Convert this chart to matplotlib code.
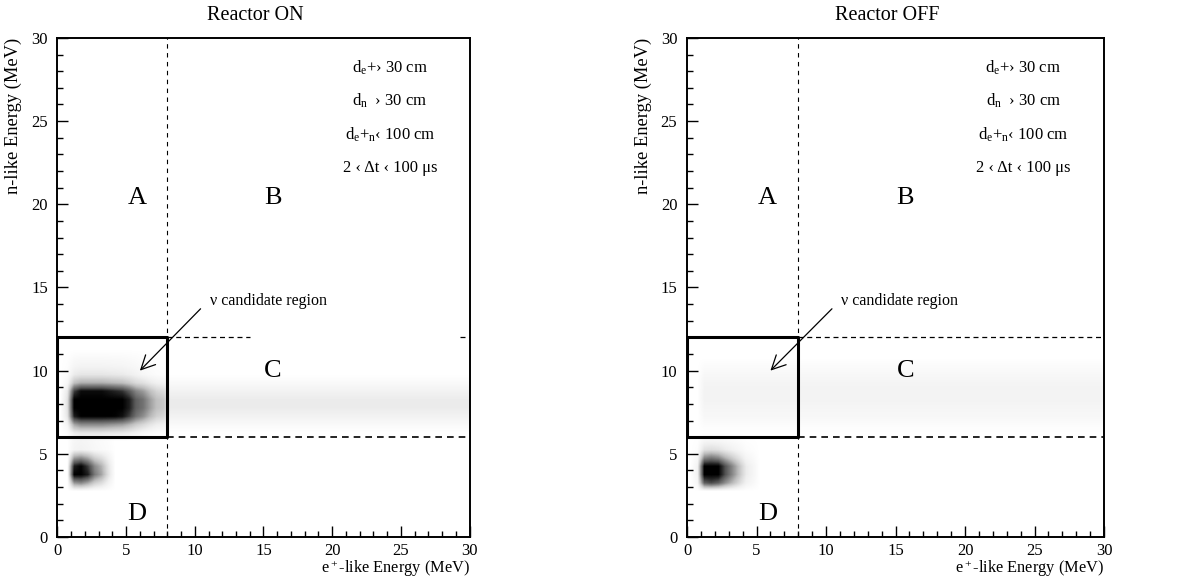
import numpy as np
import matplotlib.pyplot as plt

plt.rcParams['font.family'] = ['Liberation Serif', 'DejaVu Serif']
plt.rcParams['mathtext.fontset'] = 'custom'
plt.rcParams['mathtext.rm'] = 'Liberation Serif'
plt.rcParams['mathtext.it'] = 'Liberation Serif:italic'

# event density, 0.5 MeV bins (x: 0-30, y: 0-15)
# each blob = x-profile (starting at bin x0) times y-profile (starting at bin y0)
titles = ['Reactor ON', 'Reactor OFF']
cuts = [r'd$_\mathregular{e}$+› 30 cm',
        r'd$_\mathregular{n}$  › 30 cm',
        r'd$_\mathregular{e}$+$_\mathregular{n}$‹ 100 cm',
        '2 ‹ Δt ‹ 100 μs']
regions = ['A', 'B', 'C', 'D']
region_x = [5.8, 15.7, 15.7, 5.8]
region_y = [20.4, 20.4, 10.0, 1.4]

on_main_x = [0.2, 1.0, 1.2, 1.2, 1.2, 1.2, 1.15, 1.1, 1.05, 0.9, 0.7, 0.45, 0.3, 0.18, 0.14]
on_main_y = [0.15, 0.45, 0.9, 1.0, 1.0, 0.8, 0.35, 0.15, 0.08, 0.04]
on_band_x = [0.18] * 4 + [0.15] * 44
on_band_y = [0.3, 0.7, 1.0, 1.0, 0.7, 0.3]
on_d_x = [1.0, 1.1, 0.9, 0.6, 0.45, 0.2]
on_d_y = [0.5, 1.0, 0.9, 0.35]
on_halo_x = [0.3, 0.35, 0.3, 0.2, 0.15, 0.1]
on_halo_y = [0.4, 0.3, 0.25]

off_d_x = [0.1, 1.0, 1.1, 1.0, 0.75, 0.55, 0.35, 0.15, 0.08]
off_d_y = [0.7, 1.0, 1.0, 0.55, 0.2, 0.08]
off_band_x = [0.1] * 58
off_band_y = [0.3, 0.6, 0.8, 1.0, 1.0, 0.9, 0.6, 0.3]

blobs_on = [(on_main_x, 1, on_main_y, 12), (on_band_x, 12, on_band_y, 13),
            (on_d_x, 2, on_d_y, 6), (on_halo_x, 2, on_halo_y, 9)]
blobs_off = [(off_d_x, 1, off_d_y, 6), (off_band_x, 2, off_band_y, 13)]


def density(blobs):
    d = np.zeros((30, 60))
    for px, x0, py, y0 in blobs:
        d[y0:y0 + len(py), x0:x0 + len(px)] += np.outer(py, px)
    return np.clip(d, 0, 1)


fig = plt.figure(figsize=(11.95, 5.84), dpi=100)
axes = [fig.add_axes([0.0481, 0.0805, 0.3448, 0.8545]),
        fig.add_axes([0.5749, 0.0805, 0.349, 0.8545])]

for ax, title, blobs in zip(axes, titles, [blobs_on, blobs_off]):
    ax.imshow(density(blobs), extent=[0, 30, 0, 15], origin='lower', cmap='Greys',
              vmin=0, vmax=1, aspect='auto', interpolation='bilinear', zorder=1)
    ax.set_xlim(0, 30)
    ax.set_ylim(0, 30)

    # cut lines and candidate box
    ax.axvline(8, color='k', lw=0.8, ls=(0, (4, 4)), zorder=2)
    ax.plot([8, 30], [6, 6], color='k', lw=1.2, ls=(0, (4, 3)), zorder=2)
    if title == 'Reactor ON':
        ax.plot([8, 14], [12, 12], color='k', lw=0.9, ls=(0, (4, 3)), zorder=2)
        ax.plot([29.3, 30], [12, 12], color='k', lw=0.9, ls=(0, (4, 3)), zorder=2)
    else:
        ax.plot([8, 30], [12, 12], color='k', lw=0.9, ls=(0, (4, 3)), zorder=2)
    ax.plot([0, 8, 8, 0, 0], [6, 6, 12, 12, 6], color='k', lw=2.2, zorder=3)

    ax.annotate('ν candidate region', xy=(6.0, 10.0), xytext=(11.1, 14.2),
                fontsize=11.5, va='center', ha='left',
                arrowprops=dict(arrowstyle='->', lw=0.9, color='k', mutation_scale=25,
                                shrinkA=0, shrinkB=0, relpos=(-0.08, 0.0)))

    for lab, xr, yr in zip(regions, region_x, region_y):
        ax.text(xr, yr, lab, fontsize=19, ha='center', va='center')
    for i, c in enumerate(cuts):
        ax.text(24.2, 28.2 - 2.0 * i, c, fontsize=12, ha='center', va='center')

    ax.text(0.48, 1.045, title, transform=ax.transAxes, fontsize=14.5,
            ha='center', va='center')
    ax.set_ylabel('n-like Energy (MeV)', fontsize=13.3, loc='top')
    ax.yaxis.set_label_coords(-0.085, 1.0)
    ax.set_xlabel('e$^+$-like Energy (MeV)', fontsize=11.8, loc='right', labelpad=0)

    ax.set_xticks(range(0, 31, 5))
    ax.set_yticks(range(0, 31, 5))
    ax.set_xticks(range(0, 31), minor=True)
    ax.set_yticks(range(0, 31), minor=True)
    ax.tick_params(which='both', direction='in', top=False, right=False,
                   labelsize=12, width=1)
    ax.tick_params(which='major', length=8)
    ax.tick_params(which='minor', length=4)
    ax.tick_params(axis='y', pad=7)
    ax.tick_params(axis='x', pad=4)
    for s in ax.spines.values():
        s.set_linewidth(1.4)

plt.savefig('out.png', dpi=100)
